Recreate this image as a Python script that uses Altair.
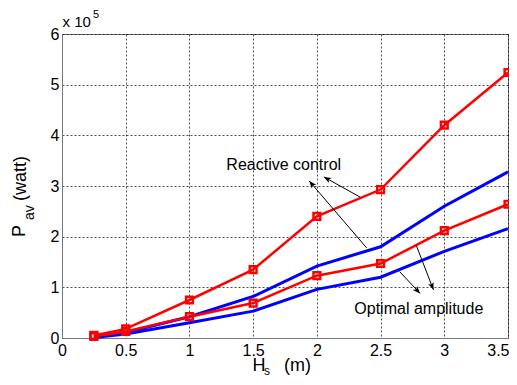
import math
import altair as alt
import pandas as pd

# ---- data (values in units of 1e5 W) ----
hs = [0.25, 0.5, 1.0, 1.5, 2.0, 2.5, 3.0, 3.5]
reactive_red = [0.05, 0.18, 0.75, 1.35, 2.40, 2.93, 4.20, 5.24]
optimal_red = [0.03, 0.13, 0.42, 0.69, 1.23, 1.47, 2.12, 2.64]
reactive_blue = [0.02, 0.11, 0.42, 0.82, 1.42, 1.80, 2.60, 3.28]
optimal_blue = [0.01, 0.08, 0.30, 0.53, 0.96, 1.20, 1.71, 2.16]

x_ticks = [0, 0.5, 1, 1.5, 2, 2.5, 3, 3.5]
y_ticks = [0, 1, 2, 3, 4, 5, 6]

# annotation arrows: tail (x, y) -> head (x2, y2), data units
arrow_x = [2.34, 2.39, 2.65, 2.78]
arrow_y = [2.78, 1.78, 1.31, 1.83]
arrow_x2 = [2.055, 1.94, 2.81, 2.915]
arrow_y2 = [3.18, 3.10, 0.88, 0.95]

label_text = ["Reactive control", "Optimal amplitude"]
label_x = [1.74, 2.80]
label_y = [3.42, 0.58]

FONT = "Liberation Sans"
W, H = 446, 304
XMAX, YMAX = 3.5, 6

rows = []
for name, vals in [("rr", reactive_red), ("or", optimal_red),
                   ("rb", reactive_blue), ("ob", optimal_blue)]:
    for x, v in zip(hs, vals):
        rows.append({"series": name, "hs": x, "p": v})
df = pd.DataFrame(rows)

xs = alt.Scale(domain=[0, XMAX], nice=False, zero=False)
ys = alt.Scale(domain=[0, YMAX], nice=False)

xax = alt.Axis(values=x_ticks, format="~g", title=None, grid=True, ticks=False,
               labelFontSize=16, labelFont=FONT, labelColor="black", labelPadding=4,
               labelAlign=alt.ConditionalAxisLabelAlign(
                   condition={"test": "datum.value >= 3.5", "value": "right"},
                   value="center"),
               labelOffset=alt.ConditionalAxisNumber(
                   condition={"test": "datum.value >= 3.5", "value": 1},
                   value=0),
               domainColor="#777777", gridColor="black", gridDash=[2, 2],
               gridWidth=0.7, labelFlush=False)
yax = alt.Axis(values=y_ticks, format="d", title=None, grid=True, ticks=False,
               labelFontSize=16, labelFont=FONT, labelColor="black", labelPadding=3,
               domainColor="#777777", gridColor="black", gridDash=[2, 2],
               gridWidth=0.7)

base = alt.Chart(df)
red = base.transform_filter("datum.series == 'rr' || datum.series == 'or'")
blue = base.transform_filter("datum.series == 'rb' || datum.series == 'ob'")

blue_lines = blue.mark_line(color="#0000FF", strokeWidth=3).encode(
    x=alt.X("hs:Q", scale=xs, axis=xax),
    y=alt.Y("p:Q", scale=ys, axis=yax),
    detail="series:N",
)
red_lines = red.mark_line(color="#FF0000", strokeWidth=2.5).encode(
    x=alt.X("hs:Q", scale=xs),
    y=alt.Y("p:Q", scale=ys),
    detail="series:N",
)
red_pts = red.mark_point(shape="square", filled=False, color="#FF0000",
                         size=45, strokeWidth=2.5, opacity=1).encode(
    x=alt.X("hs:Q", scale=xs),
    y=alt.Y("p:Q", scale=ys),
)

# arrows
px_x = W / XMAX
px_y = H / YMAX
angles = []
for tx, ty, hx, hy in zip(arrow_x, arrow_y, arrow_x2, arrow_y2):
    dx = (hx - tx) * px_x
    dy = -(hy - ty) * px_y
    angles.append(math.degrees(math.atan2(dx, -dy)) % 360)
adf = pd.DataFrame({"x": arrow_x, "y": arrow_y, "x2": arrow_x2, "y2": arrow_y2,
                    "ang": angles})
arrow_lines = alt.Chart(adf).mark_rule(color="black", strokeWidth=1).encode(
    x=alt.X("x:Q", scale=xs), y=alt.Y("y:Q", scale=ys), x2="x2:Q", y2="y2:Q")
arrow_heads = alt.Chart(adf).mark_point(
    shape="M0,0 L-0.4,1 L0,0.75 L0.4,1 Z", filled=True, color="black",
    size=220, opacity=1).encode(
    x=alt.X("x2:Q", scale=xs), y=alt.Y("y2:Q", scale=ys),
    angle=alt.Angle("ang:Q", scale=None))

ldf = pd.DataFrame({"t": label_text, "x": label_x, "y": label_y})
labels = alt.Chart(ldf).mark_text(font=FONT, fontSize=16, color="black",
                                  align="center", baseline="middle").encode(
    x=alt.X("x:Q", scale=xs), y=alt.Y("y:Q", scale=ys), text="t:N")

one = pd.DataFrame({"a": [0]})


def txt(s, x, y, size, angle=0):
    kw = dict(text=s, font=FONT, fontSize=size, color="black",
              align="left", baseline="alphabetic")
    if angle:
        kw["angle"] = angle
    return alt.Chart(one).mark_text(**kw).encode(x=alt.value(x), y=alt.value(y))


titles = [
    txt("H", 190.5, 337, 18),
    txt("s", 202, 341, 12),
    txt("(m)", 222, 337, 18),
    txt("P", -37, 203, 18, 270),
    txt("av", -28, 186, 14, 270),
    txt("(watt)", -36, 167, 18, 270),
    txt("x 10", 0.5, -7, 15),
    txt("5", 31, -16, 11),
]

chart = alt.layer(
    blue_lines, red_lines, red_pts, arrow_lines, arrow_heads, labels, *titles
).properties(
    width=W, height=H,
    autosize=alt.AutoSizeParams(type="none"),
    padding={"left": 54, "top": 26, "right": 1, "bottom": 39},
    background="white",
).configure_view(stroke="#777777", strokeWidth=1)

chart.save("out.html", embed_options={"renderer": "svg", "actions": False})
